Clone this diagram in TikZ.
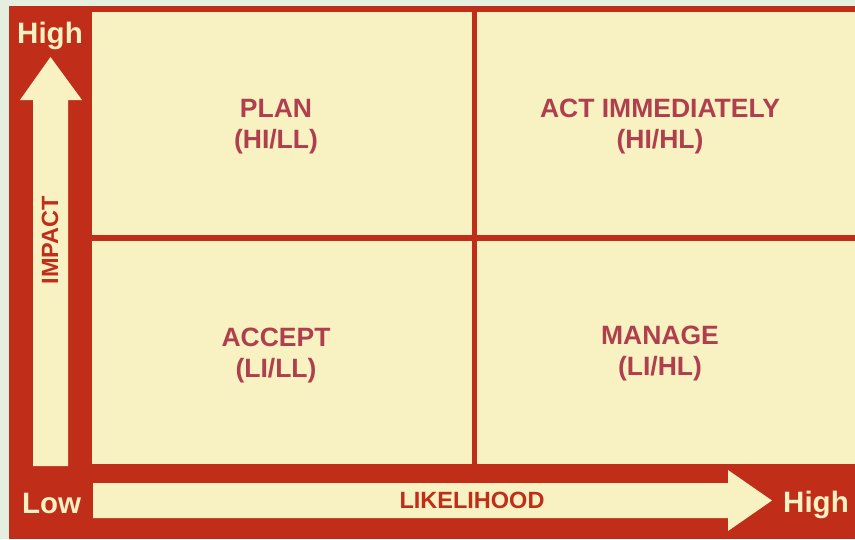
\documentclass[tikz,border=0pt]{standalone}
\usepackage{fontspec}
\setmainfont{Liberation Sans}
\usetikzlibrary{positioning}
\definecolor{bggreen}{HTML}{E4EFE0}
\definecolor{framered}{HTML}{C02E1A}
\definecolor{cream}{HTML}{F8F1C2}
\definecolor{labelred}{HTML}{B03F4E}

\begin{document}
\begin{tikzpicture}[x=1pt, y=-1pt,
quad/.style={text=labelred, font=\bfseries\fontsize{26.5}{31}\selectfont, align=center},
level/.style={text=cream, font=\bfseries\fontsize{29.5}{34}\selectfont},
axislabel/.style={text=framered, font=\bfseries\fontsize{23.5}{26}\selectfont},
]
\useasboundingbox (0,0) rectangle (855,539);
\fill[bggreen] (0,0) rectangle (855,539);
\fill[framered] (9,6) rectangle (855,539);
\fill[cream] (92,12) rectangle (855,464);
\fill[framered] (472,12) rectangle (477,464);
\fill[framered] (92,235) rectangle (855,241);
% axis arrows
\fill[cream] (33,466) -- (33,100) -- (20,100) -- (50.5,57) -- (82,100) -- (68,100) -- (68,466) -- cycle;
\fill[cream] (93,483) -- (728,483) -- (728,470) -- (772,500.5) -- (728,531) -- (728,518) -- (93,518) -- cycle;
% quadrants
\node[quad](plan) at (276,126.5){PLAN\\(HI/LL)};
\node[quad](act) at (660,126.5){ACT IMMEDIATELY\\(HI/HL)};
\node[quad](accept) at (276,355){ACCEPT\\(LI/LL)};
\node[quad](manage) at (660,353.5){MANAGE\\(LI/HL)};
% axes
\node[level, anchor=base](highy) at (50,43){High};
\node[level, anchor=base](low) at (51.5,513){Low};
\node[level, anchor=base](highx) at (816,512){High};
\node[axislabel, anchor=base](likelihood) at (472,508){LIKELIHOOD};
\node[axislabel, anchor=base, rotate=90](impact) at (58,240){IMPACT};
\end{tikzpicture}
\end{document}
